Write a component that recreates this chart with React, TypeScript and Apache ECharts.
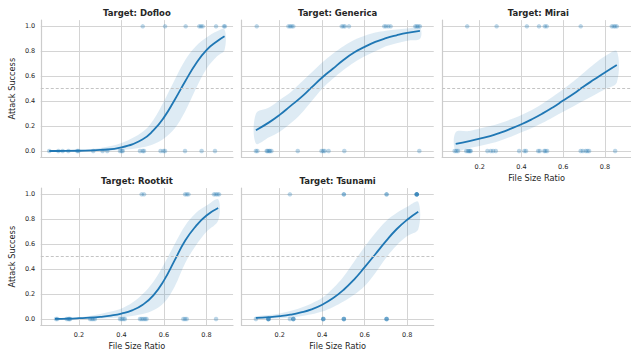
import React, { useEffect, useRef } from "react";
import * as echarts from "echarts";

// ---------- data ----------
const targetNames = ["Dofloo", "Generica", "Mirai", "Rootkit", "Tsunami"];

const xTickLabels = [0.2, 0.4, 0.6, 0.8];
const yTickLabels = [0.0, 0.2, 0.4, 0.6, 0.8, 1.0];

// Dofloo
const dofZeros = [0.06, 0.103, 0.123, 0.15, 0.192, 0.197, 0.267, 0.311, 0.333, 0.393, 0.401, 0.406, 0.487, 0.5, 0.506, 0.584, 0.597, 0.605, 0.699, 0.777, 0.84];
const dofOnes = [0.5, 0.605, 0.702, 0.766, 0.774, 0.782, 0.845, 0.882, 0.887];
const dofCurveX = [0.06, 0.1, 0.2, 0.3, 0.4, 0.5, 0.55, 0.6, 0.65, 0.7, 0.75, 0.8, 0.85, 0.885];
const dofCurveY = [0.0004, 0.0007, 0.0025, 0.009, 0.029, 0.095, 0.165, 0.27, 0.41, 0.56, 0.7, 0.81, 0.88, 0.92];
const dofLo = [0, 0, 0.0005, 0.002, 0.008, 0.03, 0.055, 0.1, 0.18, 0.32, 0.5, 0.66, 0.76, 0.81];
const dofHi = [0.002, 0.003, 0.008, 0.025, 0.065, 0.155, 0.25, 0.4, 0.57, 0.73, 0.84, 0.91, 0.96, 0.975];

// Generica
const genZeros = [0.088, 0.095, 0.139, 0.143, 0.15, 0.154, 0.161, 0.285, 0.397, 0.405, 0.412, 0.43, 0.504, 0.857];
const genOnes = [0.092, 0.241, 0.249, 0.256, 0.264, 0.492, 0.5, 0.507, 0.526, 0.692, 0.7, 0.711, 0.722, 0.838, 0.845, 0.852, 0.86];
const genCurveX = [0.088, 0.15, 0.2, 0.25, 0.3, 0.35, 0.4, 0.45, 0.5, 0.55, 0.6, 0.65, 0.7, 0.75, 0.8, 0.86];
const genCurveY = [0.167, 0.23, 0.29, 0.36, 0.43, 0.51, 0.59, 0.66, 0.73, 0.79, 0.835, 0.875, 0.905, 0.928, 0.947, 0.963];
const genLo = [0.06, 0.11, 0.155, 0.22, 0.3, 0.4, 0.5, 0.58, 0.65, 0.71, 0.76, 0.8, 0.84, 0.865, 0.885, 0.9];
const genHi = [0.3, 0.35, 0.41, 0.47, 0.55, 0.63, 0.71, 0.78, 0.84, 0.89, 0.925, 0.95, 0.965, 0.975, 0.982, 0.988];

// Mirai
const mirZeros = [0.08, 0.088, 0.096, 0.135, 0.143, 0.148, 0.153, 0.157, 0.237, 0.253, 0.264, 0.277, 0.389, 0.414, 0.422, 0.48, 0.488, 0.509, 0.515, 0.523, 0.684, 0.694, 0.708, 0.716, 0.724, 0.849];
const mirOnes = [0.14, 0.281, 0.426, 0.484, 0.512, 0.521, 0.684, 0.833, 0.842, 0.849, 0.857];
const mirCurveX = [0.085, 0.15, 0.2, 0.25, 0.3, 0.35, 0.4, 0.45, 0.5, 0.55, 0.6, 0.65, 0.7, 0.75, 0.8, 0.857];
const mirCurveY = [0.058, 0.08, 0.1, 0.12, 0.148, 0.18, 0.215, 0.255, 0.3, 0.35, 0.405, 0.46, 0.52, 0.575, 0.63, 0.69];
const mirLo = [0.005, 0.025, 0.04, 0.06, 0.085, 0.115, 0.15, 0.185, 0.225, 0.27, 0.315, 0.36, 0.405, 0.45, 0.495, 0.55];
const mirHi = [0.15, 0.16, 0.18, 0.2, 0.225, 0.255, 0.29, 0.33, 0.38, 0.435, 0.495, 0.56, 0.63, 0.7, 0.76, 0.8];

// Rootkit
const rooZeros = [0.092, 0.098, 0.142, 0.15, 0.155, 0.158, 0.252, 0.26, 0.267, 0.275, 0.393, 0.401, 0.409, 0.416, 0.487, 0.495, 0.503, 0.511, 0.518, 0.691, 0.699, 0.707, 0.845];
const rooOnes = [0.495, 0.506, 0.699, 0.707, 0.715, 0.835, 0.843, 0.851, 0.859];
const rooCurveX = [0.087, 0.15, 0.2, 0.25, 0.3, 0.35, 0.4, 0.45, 0.5, 0.55, 0.6, 0.65, 0.7, 0.75, 0.8, 0.855];
const rooCurveY = [0.002, 0.004, 0.007, 0.011, 0.018, 0.028, 0.044, 0.07, 0.115, 0.19, 0.31, 0.47, 0.63, 0.745, 0.83, 0.89];
const rooLo = [0, 0, 0.001, 0.002, 0.004, 0.008, 0.015, 0.025, 0.04, 0.07, 0.13, 0.26, 0.45, 0.59, 0.7, 0.79];
const rooHi = [0.004, 0.008, 0.015, 0.025, 0.04, 0.06, 0.085, 0.13, 0.2, 0.3, 0.44, 0.6, 0.75, 0.85, 0.91, 0.96];

// Tsunami
const tsuZeros = [0.088, 0.147, 0.147, 0.147, 0.147, 0.248, 0.264, 0.264, 0.264, 0.405, 0.405, 0.405, 0.502, 0.502, 0.502, 0.703, 0.703, 0.703];
const tsuOnes = [0.248, 0.502, 0.502, 0.703, 0.703, 0.845, 0.845, 0.845, 0.845, 0.845];
const tsuCurveX = [0.088, 0.15, 0.2, 0.25, 0.3, 0.35, 0.4, 0.45, 0.5, 0.55, 0.6, 0.65, 0.7, 0.75, 0.8, 0.852];
const tsuCurveY = [0.009, 0.015, 0.023, 0.035, 0.053, 0.078, 0.115, 0.166, 0.233, 0.317, 0.416, 0.52, 0.625, 0.72, 0.796, 0.86];
const tsuLo = [0.003, 0.004, 0.006, 0.012, 0.022, 0.038, 0.06, 0.095, 0.14, 0.195, 0.265, 0.37, 0.49, 0.59, 0.665, 0.72];
const tsuHi = [0.02, 0.032, 0.045, 0.065, 0.09, 0.125, 0.17, 0.245, 0.34, 0.46, 0.58, 0.69, 0.785, 0.85, 0.9, 0.94];

const panels = [
  { zeros: dofZeros, ones: dofOnes, cx: dofCurveX, cy: dofCurveY, lo: dofLo, hi: dofHi },
  { zeros: genZeros, ones: genOnes, cx: genCurveX, cy: genCurveY, lo: genLo, hi: genHi },
  { zeros: mirZeros, ones: mirOnes, cx: mirCurveX, cy: mirCurveY, lo: mirLo, hi: mirHi },
  { zeros: rooZeros, ones: rooOnes, cx: rooCurveX, cy: rooCurveY, lo: rooLo, hi: rooHi },
  { zeros: tsuZeros, ones: tsuOnes, cx: tsuCurveX, cy: tsuCurveY, lo: tsuLo, hi: tsuHi },
];

// ---------- styling / layout ----------
const BLUE = "#1f77b4";
const TEXT = "#262626";
const FONT = "DejaVu Sans";
const GRID_W = 192.3;
const GRID_H = 137.2;
const COL_STEP = 200.7;
const ROW_TOPS = [20.1, 188.1];

const inList = (list: number[], v: number) => list.some((t) => Math.abs(t - v) < 1e-6);

export default function App() {
  const ref = useRef<HTMLDivElement>(null);

  useEffect(() => {
    const chart = echarts.init(ref.current!, null, { renderer: "svg" });
    const grids: any[] = [];
    const xAxes: any[] = [];
    const yAxes: any[] = [];
    const series: any[] = [];
    const graphics: any[] = [];

    panels.forEach((p, i) => {
      const row = i < 3 ? 0 : 1;
      const col = i < 3 ? i : i - 3;
      const left = 40.75 + col * COL_STEP;
      const top = ROW_TOPS[row];
      grids.push({ left, top, width: GRID_W, height: GRID_H, containLabel: false });
      const showX = i >= 2;
      const showY = col === 0;

      xAxes.push({
        type: "value",
        gridIndex: i,
        min: 0.02,
        max: 0.925,
        splitNumber: 5,
        axisLine: { show: true, onZero: false, lineStyle: { color: "#cccccc", width: 1.2 } },
        axisTick: { show: false },
        axisLabel: {
          show: showX,
          showMinLabel: false,
          showMaxLabel: false,
          fontSize: 6.5,
          color: TEXT,
          margin: 6,
          fontFamily: FONT,
          formatter: (v: number) => (inList(xTickLabels, v) ? v.toFixed(1) : ""),
        },
        splitLine: { show: true, showMinLine: false, showMaxLine: false, lineStyle: { color: "#d4d4d4", width: 1 } },
        name: showX ? "File Size Ratio" : "",
        nameLocation: "middle",
        nameGap: 16.5,
        nameTextStyle: { fontSize: 8.2, color: TEXT, fontFamily: FONT },
      });

      yAxes.push({
        type: "value",
        gridIndex: i,
        min: -0.05,
        max: 1.05,
        splitNumber: 5,
        axisLine: { show: true, onZero: false, lineStyle: { color: "#cccccc", width: 1.2 } },
        axisTick: { show: false },
        axisLabel: {
          show: showY,
          showMinLabel: false,
          showMaxLabel: false,
          fontSize: 6.5,
          color: TEXT,
          margin: 5.5,
          fontFamily: FONT,
          formatter: (v: number) => (inList(yTickLabels, v) ? v.toFixed(1) : ""),
        },
        splitLine: { show: true, showMinLine: false, showMaxLine: false, lineStyle: { color: "#d4d4d4", width: 1 } },
        name: showY ? "Attack Success" : "",
        nameLocation: "middle",
        nameGap: 25,
        nameTextStyle: { fontSize: 8.2, color: TEXT, fontFamily: FONT },
      });

      // confidence band
      series.push({
        type: "custom",
        xAxisIndex: i,
        yAxisIndex: i,
        silent: true,
        z: 1,
        data: p.cx.map((x, k) => [x, p.lo[k], p.hi[k]]),
        renderItem: (params: any, api: any) => {
          if (params.dataIndex !== 0) return { type: "group", children: [] };
          const upper = p.cx.map((x, k) => api.coord([x, p.hi[k]]));
          const lower = p.cx.map((x, k) => api.coord([x, p.lo[k]])).reverse();
          return {
            type: "polygon",
            shape: { points: upper.concat(lower), smooth: 0.35 },
            style: { fill: "rgba(31,119,180,0.15)", stroke: "none" },
          };
        },
      });

      // observations
      series.push({
        type: "scatter",
        xAxisIndex: i,
        yAxisIndex: i,
        silent: true,
        z: 2,
        symbolSize: 4.5,
        itemStyle: { color: BLUE, opacity: 0.3 },
        data: [...p.zeros.map((x) => [x, 0]), ...p.ones.map((x) => [x, 1])],
      });

      // fitted curve + threshold
      series.push({
        type: "line",
        xAxisIndex: i,
        yAxisIndex: i,
        silent: true,
        z: 3,
        symbol: "none",
        showSymbol: false,
        smooth: 0.5,
        lineStyle: { color: BLUE, width: 1.8 },
        data: p.cx.map((x, k) => [x, p.cy[k]]),
        markLine: {
          silent: true,
          symbol: ["none", "none"],
          label: { show: false },
          lineStyle: { color: "#c4c4c4", type: [3, 2], width: 1 },
          data: [{ yAxis: 0.5 }],
        },
      });

      graphics.push({
        type: "text",
        x: left + GRID_W / 2,
        y: top - 7,
        style: {
          text: "Target: " + targetNames[i],
          fill: TEXT,
          fontSize: 8.5,
          fontWeight: "bold",
          fontFamily: FONT,
          align: "center",
          verticalAlign: "middle",
        },
      });
    });

    chart.setOption({
      animation: false,
      backgroundColor: "#ffffff",
      textStyle: { fontFamily: FONT },
      grid: grids,
      xAxis: xAxes,
      yAxis: yAxes,
      series,
      graphic: graphics,
    });

    return () => chart.dispose();
  }, []);

  return (
    <div
      ref={ref}
      style={{ position: "absolute", left: 0, top: 0, width: 631, height: 358 }}
    />
  );
}
